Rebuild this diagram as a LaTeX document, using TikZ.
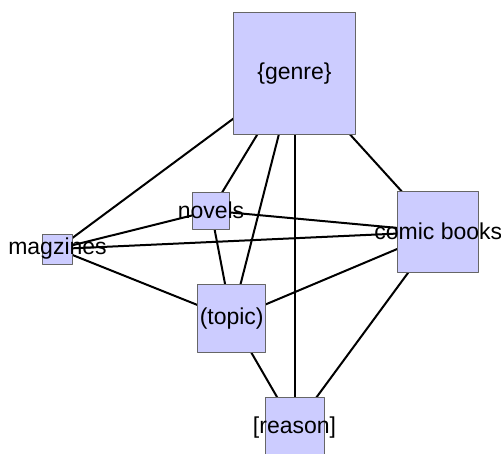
\documentclass[tikz,border=0pt]{standalone}
\usepackage{fontspec}
\setmainfont{Liberation Sans}
\usetikzlibrary{backgrounds}
\begin{document}
\begin{tikzpicture}[x=1pt, y=-1pt, font=\fontsize{23}{26}\selectfont, line join=round, line cap=round,
    box/.style={draw=black!60, line width=0.9pt, fill=blue!20, inner sep=0pt, minimum size=#1},
    link/.style={line width=2pt}]
            \useasboundingbox (0,0) rectangle (501,453);
            \node[box=122pt, label={center:\{genre\}}] (genre) at (294.5,73.3) {};
            \node[box=37pt, label={center:novels}] (novels) at (211,210.7) {};
            \node[box=30pt, label={center:magzines}] (magzines) at (57.5,249) {};
            \node[box=81pt, label={center:comic books}] (comic) at (438.3,231.7) {};
            \node[box=68pt, label={center:(topic)}] (topic) at (231.7,318.7) {};
            \node[box=59pt, label={center:[reason]}] (reason) at (294.5,427.2) {};
            \begin{scope}[on background layer]
                \foreach \a/\b in {genre/magzines, genre/novels, genre/topic, genre/reason, genre/comic,
                    novels/magzines, novels/comic, novels/topic, magzines/comic, magzines/topic,
                    topic/comic, topic/reason, comic/reason}
                \draw[link] (\a.center)--(\b.center);
            \end{scope}
    \end{tikzpicture}
\end{document}
